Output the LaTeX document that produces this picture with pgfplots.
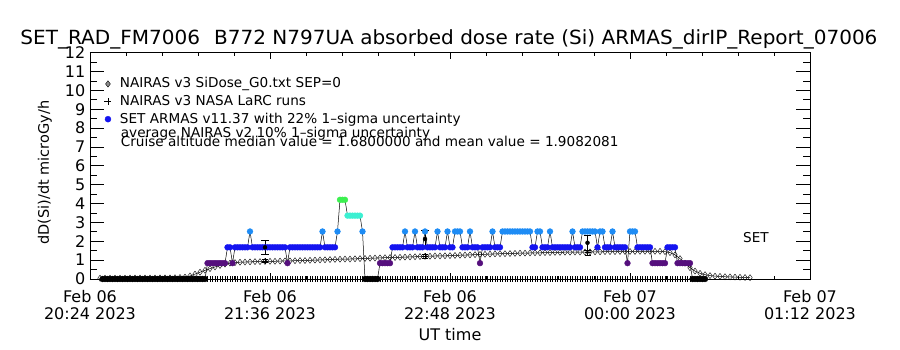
\documentclass[border=0pt]{standalone}
\usepackage{fontspec}
\setmainfont{DejaVu Sans}
\usepackage{graphicx}
\usepackage{pgfplots}
\usepackage{pgfplotstable}
\pgfplotsset{compat=1.18}
\definecolor{armasP}{RGB}{85,15,125}
\definecolor{armasB}{RGB}{20,20,240}
\definecolor{armasL}{RGB}{30,140,245}
\definecolor{armasC}{RGB}{60,240,210}
\definecolor{armasG}{RGB}{60,240,80}

% NAIRAS v3 SiDose_G0 (minutes after 20:24 UT, microGy/h)
\pgfplotstableread[row sep=\\]{
t v\\
4 0.04\\ 6 0.04\\ 8 0.04\\ 10 0.04\\ 12 0.04\\ 14 0.04\\ 16 0.05\\ 18 0.05\\ 20 0.05\\ 22 0.05\\
24 0.05\\ 26 0.05\\ 28 0.06\\ 30 0.06\\ 32 0.06\\ 34 0.07\\ 36 0.08\\ 38 0.10\\ 40 0.16\\ 42 0.26\\
44 0.36\\ 46 0.46\\ 48 0.55\\ 50 0.64\\ 52 0.72\\ 54 0.79\\ 56 0.84\\ 58 0.87\\ 60 0.89\\ 62 0.90\\
64 0.91\\ 66 0.92\\ 68 0.92\\ 70 0.93\\ 72 0.94\\ 74 0.94\\ 76 0.95\\ 78 0.96\\ 80 0.96\\ 82 0.97\\
84 0.98\\ 86 0.98\\ 88 0.99\\ 90 1.00\\ 92 1.01\\ 94 1.02\\ 96 1.03\\ 98 1.04\\ 100 1.05\\ 102 1.06\\
104 1.06\\ 106 1.07\\ 108 1.08\\ 110 1.09\\ 112 1.10\\ 114 1.11\\ 116 1.12\\ 118 1.13\\ 120 1.14\\ 122 1.14\\
124 1.15\\ 126 1.16\\ 128 1.17\\ 130 1.18\\ 132 1.19\\ 134 1.20\\ 136 1.21\\ 138 1.22\\ 140 1.22\\ 142 1.23\\
144 1.24\\ 146 1.25\\ 148 1.26\\ 150 1.27\\ 152 1.28\\ 154 1.29\\ 156 1.30\\ 158 1.31\\ 160 1.32\\ 162 1.33\\
164 1.34\\ 166 1.34\\ 168 1.35\\ 170 1.36\\ 172 1.37\\ 174 1.37\\ 176 1.38\\ 178 1.39\\ 180 1.39\\ 182 1.40\\
184 1.40\\ 186 1.41\\ 188 1.41\\ 190 1.42\\ 192 1.42\\ 194 1.43\\ 196 1.43\\ 198 1.43\\ 200 1.44\\ 202 1.44\\
204 1.44\\ 206 1.45\\ 208 1.45\\ 210 1.45\\ 212 1.46\\ 214 1.46\\ 216 1.46\\ 218 1.46\\ 220 1.47\\ 222 1.47\\
224 1.47\\ 226 1.47\\ 228 1.47\\ 230 1.45\\ 232 1.40\\ 234 1.28\\ 236 1.08\\ 238 0.84\\ 240 0.60\\ 242 0.42\\
244 0.30\\ 246 0.23\\ 248 0.18\\ 250 0.15\\ 252 0.14\\ 254 0.12\\ 256 0.11\\ 258 0.10\\ 260 0.09\\ 262 0.08\\
264 0.07\\
}\nairas

% SET ARMAS v11.37 (minutes after 20:24 UT, microGy/h, colour class)
\pgfplotstableread[row sep=\\]{
t v c\\
5 0 k\\ 6 0 k\\ 7 0 k\\ 8 0 k\\ 9 0 k\\ 10 0 k\\ 11 0 k\\ 12 0 k\\ 13 0 k\\ 14 0 k\\
15 0 k\\ 16 0 k\\ 17 0 k\\ 18 0 k\\ 19 0 k\\ 20 0 k\\ 21 0 k\\ 22 0 k\\ 23 0 k\\ 24 0 k\\
25 0 k\\ 26 0 k\\ 27 0 k\\ 28 0 k\\ 29 0 k\\ 30 0 k\\ 31 0 k\\ 32 0 k\\ 33 0 k\\ 34 0 k\\
35 0 k\\ 36 0 k\\ 37 0 k\\ 38 0 k\\ 39 0 k\\ 40 0 k\\ 41 0 k\\ 42 0 k\\ 43 0 k\\ 44 0 k\\
45 0 k\\ 46 0 k\\
47 0.84 p\\ 48 0.84 p\\ 49 0.84 p\\ 50 0.84 p\\ 51 0.84 p\\ 52 0.84 p\\ 53 0.84 p\\ 54 0.84 p\\
55 1.68 b\\ 56 1.68 b\\ 57 0.84 p\\
58 1.68 b\\ 59 1.68 b\\ 60 1.68 b\\ 61 1.68 b\\ 62 1.68 b\\ 63 1.68 b\\
64 2.52 l\\
65 1.68 b\\ 66 1.68 b\\ 67 1.68 b\\ 68 1.68 b\\ 69 1.68 b\\ 70 1.68 b\\ 71 1.68 b\\
72 1.68 b\\ 73 1.68 b\\ 74 1.68 b\\ 75 1.68 b\\ 76 1.68 b\\ 77 1.68 b\\ 78 1.68 b\\
79 0.84 p\\
80 1.68 b\\ 81 1.68 b\\ 82 1.68 b\\ 83 1.68 b\\ 84 1.68 b\\ 85 1.68 b\\ 86 1.68 b\\
87 1.68 b\\ 88 1.68 b\\ 89 1.68 b\\ 90 1.68 b\\ 91 1.68 b\\ 92 1.68 b\\
93 2.52 l\\
94 1.68 b\\ 95 1.68 b\\ 96 1.68 b\\ 97 1.68 b\\ 98 1.68 b\\
99 2.52 l\\
100 4.2 g\\ 101 4.2 g\\ 102 4.2 g\\
103 3.36 c\\ 104 3.36 c\\ 105 3.36 c\\ 106 3.36 c\\ 107 3.36 c\\ 108 3.36 c\\
109 2.52 l\\
110 0 k\\ 111 0 k\\ 112 0 k\\ 113 0 k\\ 114 0 k\\ 115 0 k\\
116 0.84 p\\ 117 0.84 p\\ 118 0.84 p\\ 119 0.84 p\\ 120 0.84 p\\
121 1.68 b\\ 122 1.68 b\\ 123 1.68 b\\ 124 1.68 b\\ 125 1.68 b\\
126 2.52 l\\
127 1.68 b\\ 128 1.68 b\\ 129 1.68 b\\
130 2.52 l\\
131 1.68 b\\ 132 1.68 b\\ 133 1.68 b\\
134 2.52 l\\
135 1.68 b\\ 136 1.68 b\\ 137 1.68 b\\ 138 1.68 b\\
139 2.52 l\\
140 1.68 b\\ 141 1.68 b\\ 142 1.68 b\\
143 2.52 l\\
144 1.68 b\\ 145 1.68 b\\
146 2.52 l\\ 147 2.52 l\\ 148 2.52 l\\
149 1.68 b\\ 150 1.68 b\\ 151 1.68 b\\
152 2.52 l\\
153 1.68 b\\ 154 1.68 b\\ 155 1.68 b\\
156 0.84 p\\
157 1.68 b\\ 158 1.68 b\\ 159 1.68 b\\ 160 1.68 b\\
161 2.52 l\\
162 1.68 b\\ 163 1.68 b\\ 164 1.68 b\\
165 2.52 l\\ 166 2.52 l\\ 167 2.52 l\\ 168 2.52 l\\ 169 2.52 l\\ 170 2.52 l\\
171 2.52 l\\ 172 2.52 l\\ 173 2.52 l\\ 174 2.52 l\\ 175 2.52 l\\ 176 2.52 l\\
177 1.68 b\\ 178 1.68 b\\
179 2.52 l\\ 180 2.52 l\\
181 1.68 b\\ 182 1.68 b\\ 183 1.68 b\\
184 2.52 l\\
185 1.68 b\\ 186 1.68 b\\ 187 1.68 b\\ 188 1.68 b\\ 189 1.68 b\\ 190 1.68 b\\ 191 1.68 b\\ 192 1.68 b\\
193 2.52 l\\
194 1.68 b\\ 195 1.68 b\\ 196 1.68 b\\
197 2.52 l\\ 198 2.52 l\\ 199 2.52 l\\ 200 2.52 l\\ 201 2.52 l\\ 202 2.52 l\\
203 1.68 b\\
204 2.52 l\\ 205 2.52 l\\
206 1.68 b\\ 207 1.68 b\\ 208 1.68 b\\
209 2.52 l\\
210 1.68 b\\ 211 1.68 b\\ 212 1.68 b\\ 213 1.68 b\\ 214 1.68 b\\
215 0.84 p\\
216 2.52 l\\ 217 2.52 l\\ 218 2.52 l\\
219 1.68 b\\ 220 1.68 b\\ 221 1.68 b\\ 222 1.68 b\\ 223 1.68 b\\ 224 1.68 b\\
225 0.84 p\\ 226 0.84 p\\ 227 0.84 p\\ 228 0.84 p\\ 229 0.84 p\\ 230 0.84 p\\
231 1.68 b\\ 232 1.68 b\\ 233 1.68 b\\ 234 1.68 b\\
235 0.84 p\\ 236 0.84 p\\ 237 0.84 p\\ 238 0.84 p\\ 239 0.84 p\\ 240 0.84 p\\
241 0 k\\ 242 0 k\\ 243 0 k\\ 244 0 k\\ 245 0 k\\ 246 0 k\\
}\armas

\begin{document}
\begin{tikzpicture}
\path[use as bounding box] (-90pt,-71pt) rectangle (810pt,279pt);

\begin{axis}[
  at={(0pt,0pt)}, anchor=south west,
  scale only axis, width=720pt, height=226.3pt,
  xmin=0, xmax=288, ymin=0, ymax=12,
  xtick={0,72,144,216,288},
  xticklabels={{Feb 06\\20:24 2023},{Feb 06\\21:36 2023},{Feb 06\\22:48 2023},{Feb 07\\00:00 2023},{Feb 07\\01:12 2023}},
  minor x tick num=4,
  ytick=\empty,
  tick align=inside, xtick pos=both,
  major tick length=6pt, minor tick length=3pt,
  xticklabel style={font=\fontsize{16}{17}\selectfont, align=center, inner sep=0pt, yshift=-11.5pt},
  axis line style={black, line width=0.9pt},
  tick style={black, line width=0.8pt},
  legend style={at={(0.0201,0.890)}, anchor=north west, draw=none, fill=none,
    inner sep=0pt, outer sep=0pt, row sep=5.0pt, column sep=8.5pt,
    font=\fontsize{13.6}{15}\selectfont, nodes={inner sep=0pt, text depth=0.24em}},
  legend cell align=left,
]
\addlegendimage{only marks, mark=diamond*, mark size=3.2pt, mark options={fill=black!45, draw=black, line width=0.4pt}}
\addlegendentry{NAIRAS v3 SiDose\_G0.txt SEP=0}
\addlegendimage{only marks, mark=+, mark size=3.5pt, black, mark options={line width=0.6pt}}
\addlegendentry{NAIRAS v3 NASA LaRC runs}
\addlegendimage{only marks, mark=*, mark size=3pt, mark options={draw=armasB, fill=armasB}}
\addlegendentry{SET ARMAS v11.37 with 22\% 1–sigma uncertainty}

% bottom comb of sample marks
\addplot[black, only marks, mark=|, mark size=2.6pt, mark options={line width=0.4pt}, restrict x to domain=47:240, forget plot]
  table[x=t, y expr=0] {\armas};

% NAIRAS model
\addplot[black, line width=0.5pt, mark=diamond, mark size=3pt, mark options={line width=0.4pt}, forget plot]
  table[x=t, y=v] {\nairas};

% ARMAS connecting line
\addplot[black, line width=0.5pt, forget plot] table[x=t, y=v] {\armas};

% ARMAS points coloured by level
\addplot[scatter, only marks, mark=*, mark size=2.9pt, point meta=explicit symbolic,
  scatter/classes={
    k={mark=*, draw=black, fill=black},
    p={mark=*, draw=armasP, fill=armasP},
    b={mark=*, draw=armasB, fill=armasB},
    l={mark=*, draw=armasL, fill=armasL},
    c={mark=*, draw=armasC, fill=armasC},
    g={mark=*, draw=armasG, fill=armasG}},
  forget plot]
  table[x=t, y=v, meta=c] {\armas};

% NAIRAS LaRC runs with 10% uncertainty
\addplot[black, only marks, mark=+, mark size=3pt, mark options={line width=0.6pt}, forget plot,
  error bars/.cd, y dir=both, y explicit,
  error bar style={line width=0.6pt},
  error mark options={rotate=90, mark size=3pt, line width=0.6pt}]
  coordinates {(70,0.96) +- (0,0.10) (134,1.20) +- (0,0.12) (199,1.40) +- (0,0.14)};

% ARMAS 22% uncertainty bars
\addplot[black, only marks, mark=none, forget plot,
  error bars/.cd, y dir=both, y explicit,
  error bar style={line width=0.7pt},
  error mark options={rotate=90, mark size=3.8pt, line width=0.7pt}]
  coordinates {(70,1.68) +- (0,0.37) (134,2.12) +- (0,0.47) (199,1.92) +- (0,0.42)};
\end{axis}

\begin{axis}[
  at={(0pt,0pt)}, anchor=south west,
  scale only axis, width=720pt, height=226.3pt,
  xmin=0, xmax=288, ymin=0, ymax=12,
  xtick=\empty, ytick={0,1,...,12}, minor y tick num=1,
  tick align=inside, ytick pos=both,
  major tick length=14pt, minor tick length=7pt,
  yticklabel style={font=\fontsize{16}{17}\selectfont, inner sep=0pt, xshift=-4.5pt},
  /pgf/number format/assume math mode=true,
  axis line style={black, line width=0.9pt},
  tick style={black, line width=0.8pt},
  ylabel={dD(Si)/dt microGy/h},
  ylabel style={font=\fontsize{14.5}{16}\selectfont, at={(axis description cs:-0.0625,0.47)}, anchor=center, inner sep=0pt},
]
\end{axis}

\node[anchor=base, inner sep=0pt, font=\fontsize{19.5}{21}\selectfont] at (359pt,234pt)
  {\resizebox{857pt}{\height}{SET\_RAD\_FM7006\hspace{0.7em}B772 N797UA absorbed dose rate (Si) ARMAS\_dirIP\_Report\_07006}};
\node[anchor=base west, inner sep=0pt, font=\fontsize{13.6}{15}\selectfont] at (30.7pt,141.7pt)
  {average NAIRAS v2 10\% 1–sigma uncertainty};
\node[anchor=base west, inner sep=0pt, font=\fontsize{13.6}{15}\selectfont] at (30.7pt,132.3pt)
  {Cruise altitude median value = 1.6800000 and mean value = 1.9082081};
\node[anchor=base west, inner sep=0pt, font=\fontsize{13.6}{15}\selectfont] at (653pt,36.3pt) {SET};
\node[anchor=base, inner sep=0pt, font=\fontsize{16}{17}\selectfont] at (360pt,-62pt) {UT time};
\end{tikzpicture}
\end{document}
